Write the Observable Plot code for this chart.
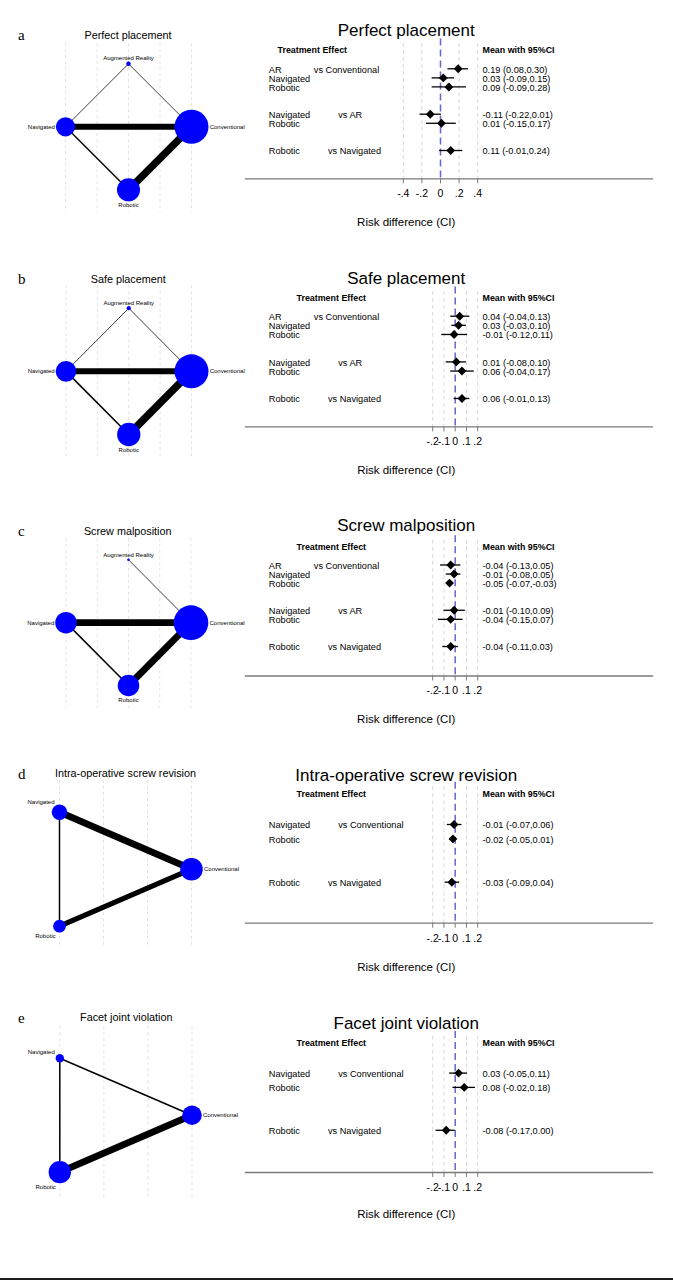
<!DOCTYPE html>
<html><head><meta charset="utf-8">
<script src="https://cdn.jsdelivr.net/npm/d3@7"></script>
<script src="https://cdn.jsdelivr.net/npm/@observablehq/plot@0.6"></script>
<style>
body{margin:0;background:#fff;}
#page{position:relative;width:673px;height:1280px;overflow:hidden;background:#fff;}
.abs{position:absolute;}
.abs svg{max-width:none !important;}
</style></head><body><div id="page"></div>
<script>
// ---------------- DATA ----------------
const panelLetters = ["a","b","c","d","e"];
const outcomes = ["Perfect placement","Safe placement","Screw malposition","Intra-operative screw revision","Facet joint violation"];

// network plots
const nodesFour = ["Conventional","Augmented Reality","Navigated","Robotic"];
const nodesThree = ["Conventional","Navigated","Robotic"];
const networkNodes = [nodesFour, nodesFour, nodesFour, nodesThree, nodesThree];
const nodeWeightA = [100, 1.8, 32, 46];
const nodeWeightB = [100, 1.6, 37, 47];
const nodeWeightC = [104, 0.6, 40, 40];
const nodeWeightD = [44, 21, 14];
const nodeWeightE = [33, 6, 43];
const nodeWeights = [nodeWeightA, nodeWeightB, nodeWeightC, nodeWeightD, nodeWeightE];
// edges: [from, to, number of studies]
const edgesA = [["Augmented Reality","Navigated",1],["Augmented Reality","Conventional",1],["Navigated","Conventional",8],["Navigated","Robotic",2],["Conventional","Robotic",10]];
const edgesB = [["Augmented Reality","Navigated",1],["Augmented Reality","Conventional",1],["Navigated","Conventional",8],["Navigated","Robotic",2],["Conventional","Robotic",10]];
const edgesC = [["Augmented Reality","Conventional",1],["Navigated","Conventional",9],["Navigated","Robotic",2],["Conventional","Robotic",9]];
const edgesD = [["Navigated","Conventional",9],["Conventional","Robotic",7],["Navigated","Robotic",2]];
const edgesE = [["Navigated","Conventional",2],["Navigated","Robotic",2],["Conventional","Robotic",9]];
const networkEdges = [edgesA, edgesB, edgesC, edgesD, edgesE];

// forest plots
const compsABC = [["AR","Conventional"],["Navigated","Conventional"],["Robotic","Conventional"],["Navigated","AR"],["Robotic","AR"],["Robotic","Navigated"]];
const compsDE = [["Navigated","Conventional"],["Robotic","Conventional"],["Robotic","Navigated"]];
const comparisons = [compsABC, compsABC, compsABC, compsDE, compsDE];
const meanA = [0.19, 0.03, 0.09, -0.11, 0.01, 0.11];
const lowA  = [0.08, -0.09, -0.09, -0.22, -0.15, -0.01];
const highA = [0.30, 0.15, 0.28, 0.01, 0.17, 0.24];
const meanB = [0.04, 0.03, -0.01, 0.01, 0.06, 0.06];
const lowB  = [-0.04, -0.03, -0.12, -0.08, -0.04, -0.01];
const highB = [0.13, 0.10, 0.11, 0.10, 0.17, 0.13];
const meanC = [-0.04, -0.01, -0.05, -0.01, -0.04, -0.04];
const lowC  = [-0.13, -0.08, -0.07, -0.10, -0.15, -0.11];
const highC = [0.05, 0.05, -0.03, 0.09, 0.07, 0.03];
const meanD = [-0.01, -0.02, -0.03];
const lowD  = [-0.07, -0.05, -0.09];
const highD = [0.06, 0.01, 0.04];
const meanE = [0.03, 0.08, -0.08];
const lowE  = [-0.05, -0.02, -0.17];
const highE = [0.11, 0.18, 0.00];
const means = [meanA, meanB, meanC, meanD, meanE];
const lows = [lowA, lowB, lowC, lowD, lowE];
const highs = [highA, highB, highC, highD, highE];
const ticksWide = [-0.4, -0.2, 0, 0.2, 0.4];
const ticksNarrow = [-0.2, -0.1, 0, 0.1, 0.2];
const axisTicks = [ticksWide, ticksNarrow, ticksNarrow, ticksNarrow, ticksNarrow];

// ---------------- LAYOUT (page pixels) ----------------
const netLayout = [
  {top: 15,   title: 35,     titleX: 127.5, gridTop: 43,   gridBottom: 212,  yTop: 63.3,   yBottom: 189.3,  xLeft: 65,   xRight: 191},
  {top: 260,  title: 279,    titleX: 127.7, gridTop: 285,  gridBottom: 457,  yTop: 307.7,  yBottom: 434,    xLeft: 65.5, xRight: 191},
  {top: 505,  title: 530.7,  titleX: 127.2, gridTop: 538,  gridBottom: 708,  yTop: 559.3,  yBottom: 685,    xLeft: 65.5, xRight: 190.5},
  {top: 755,  title: 773.3,  titleX: 125,   gridTop: 780,  gridBottom: 946,  yTop: 811.7,  yBottom: 925.7,  xLeft: 59,   xRight: 191},
  {top: 1005, title: 1017.3, titleX: 125.8, gridTop: 1026, gridBottom: 1198, yTop: 1057.7, yBottom: 1171.7, xLeft: 59.3, xRight: 191.5}
];
const forestLayout = [
  {title: 30,     header: 50,     row0: 68.3,   rowLast: 150,    axis: 178.3, xlabel: 222,  zeroX: 440,   unitPx: 93,    headerDx: 32},
  {title: 278.3,  header: 298.3,  row0: 316,    rowLast: 398.3,  axis: 426.7, xlabel: 470,  zeroX: 454.7, unitPx: 112.5, headerDx: 51},
  {title: 525,    header: 546.7,  row0: 564.5,  rowLast: 646,    axis: 675.5, xlabel: 719,  zeroX: 454.7, unitPx: 112.5, headerDx: 51},
  {title: 775,    header: 793.3,  row0: 824,    rowLast: 881.7,  axis: 922.7, xlabel: 966.7, zeroX: 454.7, unitPx: 112.5, headerDx: 51},
  {title: 1022.7, header: 1042.3, row0: 1072.3, rowLast: 1129.5, axis: 1171.7, xlabel: 1214, zeroX: 454.7, unitPx: 112.5, headerDx: 51}
];
const FL = 245, FR = 652; // forest axis line extent (page)

const page = document.getElementById("page");
const SANS = "'Liberation Sans', Arial, Helvetica, sans-serif";
const rMax = 17, wMax = 100;
const rPx = v => rMax * Math.sqrt(v / wMax);

function networkPlot(i) {
  const L = netLayout[i];
  const names = networkNodes[i];
  const n = names.length;
  const nodes = names.map((name, k) => {
    const ang = 2 * Math.PI * k / n;
    const x = Math.abs(Math.cos(ang)) < 1e-9 ? 0 : Math.cos(ang);
    const y = Math.abs(Math.sin(ang)) < 1e-9 ? 0 : Math.sin(ang);
    return {name, deg: Math.round(360 * k / n), x, y, v: nodeWeights[i][k]};
  });
  const byName = new Map(nodes.map(d => [d.name, d]));
  const links = networkEdges[i].map(([s, t, c]) => ({x1: byName.get(s).x, y1: byName.get(s).y, x2: byName.get(t).x, y2: byName.get(t).y, c}));
  const xs = d3.extent(nodes, d => d.x), ys = d3.extent(nodes, d => d.y);
  const grid = d3.range(Math.ceil(xs[0] * 2 - 1e-9) / 2, xs[1] + 1e-9, 0.5);
  const W = 252, H = L.gridBottom - L.top + 10;
  const labelMarks = nodes.map(d => {
    const r = rPx(d.v);
    let o = {textAnchor: "middle", dx: 0, dy: 0};
    if (d.deg === 0) o = {textAnchor: "start", dx: r + 1.2, dy: 0};
    else if (d.deg === 90) o = {textAnchor: "middle", dx: 0, dy: -(r + 3)};
    else if (d.deg === 180) o = {textAnchor: "end", dx: -(r + 1), dy: 0};
    else if (d.deg === 270) o = {textAnchor: "middle", dx: 0, dy: r + 4};
    else if (d.deg === 120) o = {textAnchor: "end", dx: -5, dy: -(r + 2)};
    else if (d.deg === 240) o = {textAnchor: "end", dx: -4, dy: r + 4};
    return Plot.text([d], {x: "x", y: "y", text: "name", fontSize: 6, lineAnchor: "middle", ...o});
  });
  const svg = Plot.plot({
    width: W, height: H,
    marginLeft: 0, marginRight: 0,
    marginTop: L.gridTop - L.top, marginBottom: H - (L.gridBottom - L.top),
    style: {fontFamily: SANS, background: "transparent", overflow: "visible", maxWidth: "none"},
    x: {domain: xs, range: [L.xLeft, L.xRight], axis: null},
    y: {domain: ys, range: [L.yBottom - L.top, L.yTop - L.top], axis: null},
    r: {type: "sqrt", domain: [0, wMax], range: [0, rMax]},
    marks: [
      Plot.ruleX(grid, {x: d => d, stroke: "#e4e4e4", strokeWidth: 1, strokeDasharray: "3,3"}),
      Plot.link(links, {x1: "x1", y1: "y1", x2: "x2", y2: "y2", stroke: "black", strokeWidth: d => 0.75 * d.c}),
      Plot.dot(nodes, {x: "x", y: "y", r: "v", fill: "#0000ff", stroke: "none"}),
      ...labelMarks,
      Plot.text([outcomes[i]], {text: d => d, frameAnchor: "top-left", dx: L.titleX, dy: L.title - L.gridTop, textAnchor: "middle", lineAnchor: "middle", fontSize: 10.8}),
      Plot.text([panelLetters[i]], {text: d => d, frameAnchor: "top-left", dx: 17.5, dy: L.title - L.gridTop, textAnchor: "start", lineAnchor: "middle", fontSize: 15, fontFamily: "'Liberation Serif', 'Times New Roman', serif"})
    ]
  });
  svg.style.maxWidth = "none";
  const wrap = document.createElement("div");
  wrap.className = "abs";
  wrap.style.left = "0px"; wrap.style.top = L.top + "px";
  wrap.appendChild(svg);
  page.appendChild(wrap);
}

const ctx = document.createElement("canvas").getContext("2d");
const ROWFONT = 9.2;
ctx.font = ROWFONT + "px 'Liberation Sans'";
const fmt = v => v.toFixed(2);
const tickFmt = d => d === 0 ? "0" : (d < 0 ? "-" : "") + String(Math.abs(d)).replace(/^0/, "");

function forestPlot(i) {
  const L = forestLayout[i];
  let u = -3, prev = null;
  const rows = comparisons[i].map(([t, c], j) => {
    const first = c !== prev;
    u += first ? 3 : 1; prev = c;
    return {t, c, u, first, est: means[i][j], lo: lows[i][j], hi: highs[i][j]};
  });
  const lastU = rows[rows.length - 1].u;
  const top = L.title - 22;
  const H = L.xlabel + 14 - top;
  const W = 673 - FL;
  const domain = [-(L.zeroX - FL) / L.unitPx, (FR - L.zeroX) / L.unitPx];
  const ticks = axisTicks[i];
  const labelDx = 23.3, estDx = 237;
  const vsMarks = rows.filter(d => d.first).map(d => {
    const w = ctx.measureText(d.t).width;
    return Plot.text([d], {frameAnchor: "left", y: "u", text: r => "vs " + r.c, dx: labelDx + Math.max(w + 28, 45), dy: 1, textAnchor: "start", lineAnchor: "middle"});
  });
  const midDx = (405.7 - (FL + FR) / 2);
  const svg = Plot.plot({
    width: W, height: H,
    marginLeft: 0, marginRight: W - (FR - FL),
    marginTop: L.header - top, marginBottom: H - (L.axis - top),
    style: {fontFamily: SANS, fontSize: ROWFONT + "px", background: "transparent", overflow: "visible", maxWidth: "none"},
    x: {domain, axis: null},
    y: {domain: [0, lastU], range: [L.row0 - top, L.rowLast - top], axis: null},
    marks: [
      Plot.ruleX(ticks.filter(t => t !== 0), {x: d => d, stroke: "#d9d9d9", strokeWidth: 1, strokeDasharray: "4,3", insetTop: -7}),
      Plot.ruleX([0], {x: d => d, stroke: "#6666cc", strokeWidth: 1.5, strokeDasharray: "7,4", insetTop: -11.5}),
      Plot.frame({anchor: "bottom", stroke: "#7a7a7a", strokeWidth: 1.3}),
      Plot.axisX(ticks, {anchor: "bottom", tickSize: 5, tickPadding: 6, tickFormat: tickFmt, fontSize: 10.5, stroke: "#7a7a7a", label: null}),
      Plot.ruleY(rows, {y: "u", x1: "lo", x2: "hi", stroke: "black", strokeWidth: 1.3}),
      Plot.dot(rows, {x: "est", y: "u", symbol: "diamond2", r: 4, fill: "black", stroke: "none"}),
      Plot.text(rows, {frameAnchor: "left", y: "u", text: "t", dx: labelDx, dy: 1, textAnchor: "start", lineAnchor: "middle"}),
      ...vsMarks,
      Plot.text(rows, {frameAnchor: "left", y: "u", text: d => `${fmt(d.est)} (${fmt(d.lo)},${fmt(d.hi)})`, dx: estDx, dy: 1, textAnchor: "start", lineAnchor: "middle"}),
      Plot.text(["Treatment Effect"], {text: d => d, frameAnchor: "top-left", dx: L.headerDx, textAnchor: "start", lineAnchor: "middle", fontWeight: "bold", fontSize: 8.9}),
      Plot.text(["Mean with 95%CI"], {text: d => d, frameAnchor: "top-left", dx: estDx, textAnchor: "start", lineAnchor: "middle", fontWeight: "bold", fontSize: 8.9}),
      Plot.text([outcomes[i]], {text: d => d, frameAnchor: "top", dx: midDx, dy: L.title - L.header, lineAnchor: "middle", fontSize: 17}),
      Plot.text(["Risk difference (CI)"], {text: d => d, frameAnchor: "bottom", dx: midDx, dy: L.xlabel - L.axis, lineAnchor: "middle", fontSize: 11.5})
    ]
  });
  svg.style.maxWidth = "none";
  const wrap = document.createElement("div");
  wrap.className = "abs";
  wrap.style.left = FL + "px"; wrap.style.top = top + "px";
  wrap.appendChild(svg);
  page.appendChild(wrap);
}

for (let i = 0; i < 5; i++) forestPlot(i);
for (let i = 0; i < 5; i++) networkPlot(i);

const bottomLine = document.createElement("div");
bottomLine.className = "abs";
Object.assign(bottomLine.style, {left: "0px", top: "1277.5px", width: "673px", height: "2.5px", background: "#1c1c1c"});
page.appendChild(bottomLine);
</script>
</body></html>
